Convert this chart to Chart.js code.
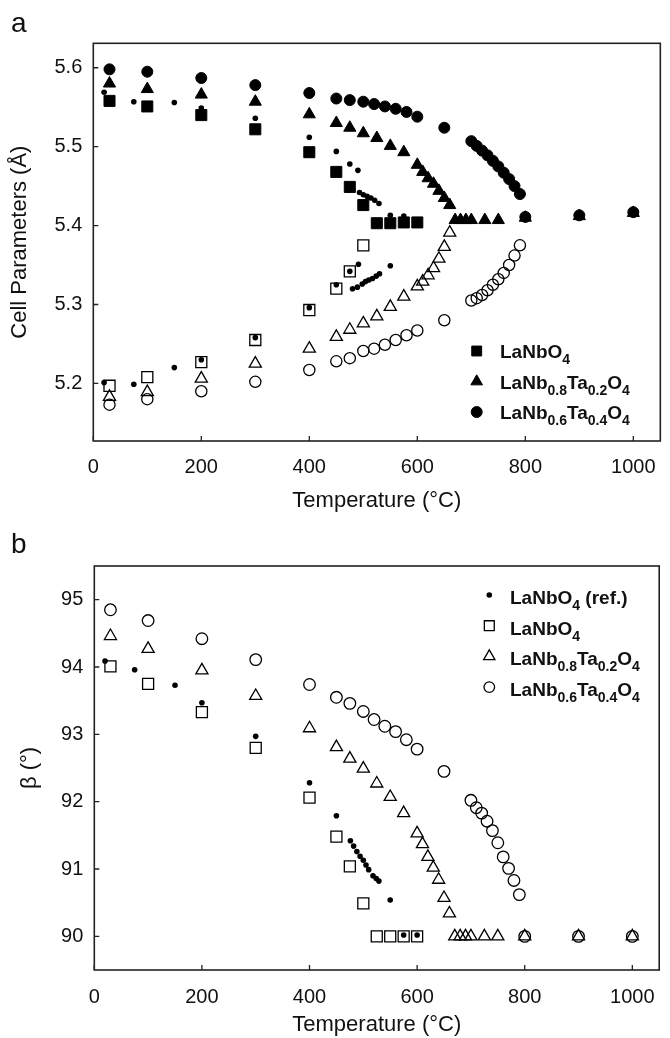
<!DOCTYPE html>
<html>
<head>
<meta charset="utf-8">
<script src="https://cdn.jsdelivr.net/npm/chart.js@4.4.1/dist/chart.umd.min.js"></script>
<style>
  body { margin: 0; background: #fff; }
  canvas { display: block; }
</style>
</head>
<body>
<canvas id="chartA" width="670" height="520"></canvas>
<canvas id="chartB" width="670" height="518"></canvas>
<script>
const FONT = "'Liberation Sans', Arial, Helvetica, sans-serif";
const INK = '#111';

// tick labels
const tempTicks = [0, 200, 400, 600, 800, 1000];
const cellTicks = [5.2, 5.3, 5.4, 5.5, 5.6];
const betaTicks = [90, 91, 92, 93, 94, 95];

// ---- a: cell parameters (filled = long axis, open = short axis) ----
const nbHiT = [30, 100, 200, 300, 400, 450, 475, 500, 525, 550, 575, 600];
const nbHi  = [5.558, 5.551, 5.540, 5.522, 5.493, 5.468, 5.449, 5.426, 5.403, 5.403, 5.404, 5.404];
const nbLoT = [30, 100, 200, 300, 400, 450, 475, 500];
const nbLo  = [5.197, 5.208, 5.227, 5.255, 5.293, 5.320, 5.342, 5.375];

const ta2HiT = [30, 100, 200, 300, 400, 450, 475, 500, 525, 550, 575, 600, 610, 620, 630, 640, 650, 660,
                670, 680, 690, 700, 725, 750, 800, 900, 1000];
const ta2Hi  = [5.580, 5.573, 5.566, 5.557, 5.541, 5.530, 5.524, 5.517, 5.511, 5.501, 5.493, 5.477, 5.468,
                5.460, 5.453, 5.444, 5.435, 5.426, 5.407, 5.407, 5.407, 5.407, 5.407, 5.407, 5.410, 5.412, 5.416];
const ta2LoT = [30, 100, 200, 300, 400, 450, 475, 500, 525, 550, 575, 600, 610, 620, 630, 640, 650, 660];
const ta2Lo  = [5.183, 5.189, 5.206, 5.225, 5.244, 5.259, 5.268, 5.276, 5.285, 5.297, 5.310, 5.323, 5.329,
                5.337, 5.346, 5.358, 5.373, 5.391];

const ta4HiT = [30, 100, 200, 300, 400, 450, 475, 500, 520, 540, 560, 580, 600, 650,
                700, 710, 720, 730, 740, 750, 760, 770, 780, 790, 800, 900, 1000];
const ta4Hi  = [5.598, 5.595, 5.587, 5.578, 5.568, 5.561, 5.559, 5.557, 5.554, 5.551, 5.548, 5.544, 5.538, 5.524,
                5.507, 5.501, 5.495, 5.489, 5.482, 5.475, 5.467, 5.459, 5.450, 5.440, 5.411, 5.413, 5.417];
const ta4LoT = [30, 100, 200, 300, 400, 450, 475, 500, 520, 540, 560, 580, 600, 650,
                700, 710, 720, 730, 740, 750, 760, 770, 780, 790];
const ta4Lo  = [5.173, 5.180, 5.190, 5.202, 5.217, 5.228, 5.232, 5.241, 5.244, 5.249, 5.255, 5.261, 5.267, 5.280,
                5.305, 5.308, 5.312, 5.318, 5.325, 5.332, 5.340, 5.350, 5.362, 5.375];

// literature values for LaNbO4
const refHiT = [20, 75, 150, 200, 300, 400, 450, 475, 490, 493, 500, 507, 514, 521, 529, 550, 575, 600];
const refHi  = [5.569, 5.557, 5.556, 5.549, 5.536, 5.512, 5.494, 5.478, 5.470, 5.442, 5.439, 5.437, 5.435,
                5.432, 5.428, 5.413, 5.412, 5.404];
const refLoT = [20, 75, 150, 200, 300, 400, 450, 475, 491, 480, 489, 498, 504, 510, 517, 524, 530, 550];
const refLo  = [5.201, 5.199, 5.220, 5.230, 5.258, 5.296, 5.325, 5.342, 5.351, 5.320, 5.322, 5.326, 5.329,
                5.331, 5.333, 5.336, 5.339, 5.349];

// ---- b: monoclinic angle ----
const bRefT = [20, 75, 150, 200, 300, 400, 450, 476, 482, 488, 494, 500, 505, 510, 518, 524, 529, 550, 575, 600];
const bRef  = [94.09, 93.96, 93.73, 93.47, 92.97, 92.28, 91.79, 91.42, 91.34, 91.26, 91.19, 91.13, 91.06,
               90.99, 90.90, 90.86, 90.82, 90.54, 90.02, 90.02];
const bNbT  = [30, 100, 200, 300, 400, 450, 475, 500, 525, 550, 575, 600];
const bNb   = [94.01, 93.75, 93.33, 92.80, 92.06, 91.48, 91.04, 90.49, 90, 90, 90, 90];
const bTa2T = [30, 100, 200, 300, 400, 450, 475, 500, 525, 550, 575, 600, 610, 620, 630, 640, 650, 660,
               670, 680, 690, 700, 725, 750, 800, 900, 1000];
const bTa2  = [94.46, 94.27, 93.95, 93.57, 93.09, 92.81, 92.64, 92.49, 92.27, 92.07, 91.83, 91.53, 91.37,
               91.18, 91.02, 90.84, 90.57, 90.34, 90, 90, 90, 90, 90, 90, 90, 90, 90];
const bTa4T = [30, 100, 200, 300, 400, 450, 475, 500, 520, 540, 560, 580, 600, 650,
               700, 710, 720, 730, 740, 750, 760, 770, 780, 790, 800, 900, 1000];
const bTa4  = [94.85, 94.69, 94.42, 94.11, 93.74, 93.55, 93.46, 93.34, 93.22, 93.12, 93.04, 92.92, 92.78, 92.45,
               92.02, 91.91, 91.83, 91.71, 91.57, 91.39, 91.18, 91.01, 90.83, 90.62, 90, 90, 90];

const pts = (xs, ys) => xs.map((x, i) => ({ x: x, y: ys[i] }));

function series(label, xs, ys, style, filled, radius, extra) {
  return Object.assign({
    label: label,
    data: pts(xs, ys),
    pointStyle: style,
    pointRadius: radius,
    pointHoverRadius: radius,
    backgroundColor: filled ? '#000' : 'rgba(0,0,0,0)',
    borderColor: '#000',
    borderWidth: filled ? 1 : 1.3
  }, extra || {});
}

// split "LaNb_{0.8}Ta_{0.2}O_{4}" into normal / subscript pieces
function runs(label) {
  const out = [];
  const re = /_\{([^}]*)\}/g;
  let last = 0, m;
  while ((m = re.exec(label))) {
    if (m.index > last) out.push({ t: label.slice(last, m.index), sub: false });
    out.push({ t: m[1], sub: true });
    last = re.lastIndex;
  }
  if (last < label.length) out.push({ t: label.slice(last), sub: false });
  return out;
}

// legend with chemical subscripts
const subLegend = {
  id: 'subLegend',
  afterDraw(chart, args, opts) {
    const ctx = chart.ctx;
    const items = chart.data.datasets
      .filter(d => d.legendRank !== undefined)
      .sort((p, q) => p.legendRank - q.legendRank);
    ctx.save();
    items.forEach((ds, i) => {
      const cy = opts.y + i * opts.gap;
      ctx.fillStyle = ds.backgroundColor;
      ctx.strokeStyle = ds.borderColor;
      ctx.lineWidth = ds.borderWidth;
      Chart.helpers.drawPoint(ctx, {
        pointStyle: ds.pointStyle,
        radius: ds.legendRadius || ds.pointRadius,
        borderWidth: ds.borderWidth,
        rotation: 0
      }, opts.markerX, cy);
      let tx = opts.textX;
      ctx.fillStyle = INK;
      ctx.textBaseline = 'alphabetic';
      ctx.textAlign = 'left';
      runs(ds.label).forEach(r => {
        ctx.font = 'bold ' + (r.sub ? opts.subSize : opts.size) + 'px ' + FONT;
        ctx.fillText(r.t, tx, cy + opts.base + (r.sub ? opts.subDrop : 0));
        tx += ctx.measureText(r.t).width;
      });
    });
    ctx.restore();
  }
};

// box around the plot and short inward tick marks
const frameTicks = {
  id: 'frameTicks',
  afterDatasetsDraw(chart) {
    const ctx = chart.ctx, a = chart.chartArea, x = chart.scales.x, y = chart.scales.y;
    ctx.save();
    ctx.strokeStyle = '#222';
    ctx.lineWidth = 1.6;
    ctx.strokeRect(a.left, a.top, a.right - a.left, a.bottom - a.top);
    ctx.lineWidth = 1.3;
    ctx.beginPath();
    x.ticks.forEach(t => {
      const px = x.getPixelForValue(t.value);
      ctx.moveTo(px, a.bottom);
      ctx.lineTo(px, a.bottom - 5);
    });
    y.ticks.forEach(t => {
      const py = y.getPixelForValue(t.value);
      ctx.moveTo(a.left, py);
      ctx.lineTo(a.left + 5, py);
    });
    ctx.stroke();
    ctx.restore();
  }
};

const panelLetter = {
  id: 'panelLetter',
  afterDraw(chart, args, opts) {
    const ctx = chart.ctx;
    ctx.save();
    ctx.font = opts.size + 'px ' + FONT;
    ctx.fillStyle = INK;
    ctx.textBaseline = 'alphabetic';
    ctx.textAlign = 'left';
    ctx.fillText(opts.text, opts.x, opts.y);
    ctx.restore();
  }
};

function scales(g) {
  return {
    x: {
      type: 'linear', min: 0, max: 1050,
      afterBuildTicks: s => { s.ticks = tempTicks.map(v => ({ value: v })); },
      afterFit: s => { s.height = g.xAxisH; },
      grid: { display: false, drawTicks: false },
      border: { display: false },
      ticks: { color: INK, font: { family: FONT, size: 20 }, padding: g.xPad, maxRotation: 0, autoSkip: false,
               callback: v => String(v) },
      title: { display: true, text: 'Temperature (°C)', color: INK,
               font: { family: FONT, size: 22 }, padding: { top: 0, bottom: g.xTitlePad } }
    },
    y: {
      type: 'linear', min: g.yMin, max: g.yMax,
      afterBuildTicks: s => { s.ticks = g.yTicks.map(v => ({ value: v })); },
      afterFit: s => { s.width = g.yAxisW; },
      grid: { display: false, drawTicks: false },
      border: { display: false },
      ticks: { color: INK, font: { family: FONT, size: 20 }, padding: 11, autoSkip: false,
               callback: v => v.toFixed(g.digits) },
      title: { display: true, text: g.yTitle, color: INK,
               font: { family: FONT, size: 22 }, padding: { top: g.yTitlePad, bottom: 0 } }
    }
  };
}

const common = {
  responsive: false,
  animation: false,
  events: [],
};

new Chart(document.getElementById('chartA'), {
  type: 'scatter',
  data: {
    datasets: [
      series('LaNbO_{4} (ref.)', refHiT, refHi, 'circle', true, 2.8, { borderWidth: 0 }),
      series('LaNbO_{4} (ref.)', refLoT, refLo, 'circle', true, 2.8, { borderWidth: 0 }),
      series('LaNbO_{4}', nbHiT, nbHi, 'rect', true, 7.8, { legendRank: 0, legendRadius: 7 }),
      series('LaNb_{0.8}Ta_{0.2}O_{4}', ta2HiT, ta2Hi, 'triangle', true, 7, { legendRank: 1, legendRadius: 6.7 }),
      series('LaNb_{0.6}Ta_{0.4}O_{4}', ta4HiT, ta4Hi, 'circle', true, 5.5, { legendRank: 2, legendRadius: 5.5 }),
      series('LaNbO_{4}', nbLoT, nbLo, 'rect', false, 7.8),
      series('LaNb_{0.8}Ta_{0.2}O_{4}', ta2LoT, ta2Lo, 'triangle', false, 7),
      series('LaNb_{0.6}Ta_{0.4}O_{4}', ta4LoT, ta4Lo, 'circle', false, 5.6)
    ]
  },
  options: Object.assign({}, common, {
    layout: { padding: { top: 43.3, right: 7.7, left: 0, bottom: 0 } },
    scales: scales({ yMin: 5.127, yMax: 5.631, yTicks: cellTicks, digits: 1, yAxisW: 93.3, xAxisH: 79,
                     xPad: 14, xTitlePad: 6, yTitle: 'Cell Parameters (Å)', yTitlePad: 7 }),
    plugins: {
      legend: { display: false },
      tooltip: { enabled: false },
      subLegend: { markerX: 476.7, textX: 500, y: 351, gap: 30.5, size: 19, subSize: 14, base: 7, subDrop: 6 },
      panelLetter: { text: 'a', x: 11, y: 32, size: 28 }
    }
  }),
  plugins: [frameTicks, subLegend, panelLetter]
});

new Chart(document.getElementById('chartB'), {
  type: 'scatter',
  data: {
    datasets: [
      series('LaNbO_{4} (ref.)', bRefT, bRef, 'circle', true, 2.8, { borderWidth: 0, legendRank: 0, legendRadius: 2.8 }),
      series('LaNbO_{4}', bNbT, bNb, 'rect', false, 7.8, { legendRank: 1, legendRadius: 7 }),
      series('LaNb_{0.8}Ta_{0.2}O_{4}', bTa2T, bTa2, 'triangle', false, 7, { legendRank: 2, legendRadius: 6.5 }),
      series('LaNb_{0.6}Ta_{0.4}O_{4}', bTa4T, bTa4, 'circle', false, 5.8, { legendRank: 3, legendRadius: 5.3 })
    ]
  },
  options: Object.assign({}, common, {
    layout: { padding: { top: 46, right: 0, left: 0, bottom: 0 } },
    scales: scales({ yMin: 89.5, yMax: 95.5, yTicks: betaTicks, digits: 0, yAxisW: 94.3, xAxisH: 68,
                     xPad: 15, xTitlePad: 0, yTitle: 'β (°)', yTitlePad: 17 }),
    plugins: {
      legend: { display: false },
      tooltip: { enabled: false },
      subLegend: { markerX: 489.3, textX: 510, y: 75, gap: 30.7, size: 19, subSize: 14, base: 9, subDrop: 6 },
      panelLetter: { text: 'b', x: 11, y: 33, size: 28 }
    }
  }),
  plugins: [frameTicks, subLegend, panelLetter]
});
</script>
</body>
</html>
